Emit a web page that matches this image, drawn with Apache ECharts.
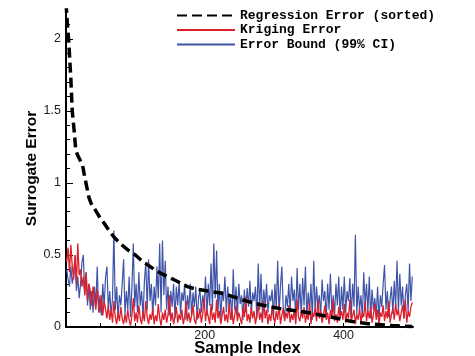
<!DOCTYPE html>
<html>
<head>
<meta charset="utf-8">
<script src="https://cdn.jsdelivr.net/npm/echarts@6/dist/echarts.min.js"></script>
<style>html,body{margin:0;padding:0;background:#fff;}#c{width:475px;height:356px;}</style>
</head>
<body>
<div id="c"></div>
<script>
// Regression error (sorted): sample index / value pairs
var regX = [0, 2, 4, 7, 9, 12, 14, 17, 20, 24, 27, 30, 33, 36, 40, 45, 50, 55, 62, 69, 78, 89, 100, 108, 118, 127, 136, 146, 155, 165, 175, 186, 198, 210, 223, 235, 247, 258, 270, 282, 294, 308, 323, 338, 352, 366, 381, 395, 410, 425, 440, 455, 470, 485, 499];
var regY = [2.25, 2.1, 1.98, 1.72, 1.5, 1.35, 1.23, 1.19, 1.16, 1.12, 1.04, 0.97, 0.9, 0.86, 0.83, 0.79, 0.75, 0.72, 0.67, 0.625, 0.58, 0.535, 0.5, 0.465, 0.43, 0.4, 0.375, 0.35, 0.33, 0.305, 0.28, 0.265, 0.255, 0.245, 0.236, 0.22, 0.2, 0.183, 0.167, 0.153, 0.14, 0.128, 0.118, 0.108, 0.097, 0.083, 0.07, 0.055, 0.04, 0.03, 0.02, 0.015, 0.01, 0.006, 0.003];

// Kriging and error bound: one value every 2 samples (index 1,3,5,...,499)
var sampleStep = 2;
var krigingError = [
0.45,0.55,0.38,0.57,0.42,0.33,0.50,0.30,0.58,0.36,
0.40,0.28,0.35,0.22,0.38,0.18,0.30,0.25,0.15,0.28,
0.20,0.12,0.26,0.16,0.10,0.22,0.08,0.18,0.12,0.06,
0.15,0.05,0.12,0.03,0.18,0.07,0.02,0.10,0.04,0.14,
0.06,0.02,0.09,0.03,0.12,0.05,0.01,0.08,0.20,0.04,
0.10,0.03,0.15,0.06,0.02,0.11,0.04,0.18,0.07,0.02,
0.09,0.05,0.13,0.02,0.08,0.04,0.16,0.06,0.01,0.10,
0.05,0.12,0.03,0.08,0.22,0.04,0.10,0.02,0.07,0.14,
0.03,0.09,0.05,0.12,0.02,0.07,0.18,0.04,0.10,0.03,
0.08,0.15,0.05,0.02,0.11,0.06,0.13,0.03,0.09,0.20,
0.04,0.12,0.07,0.02,0.16,0.05,0.10,0.03,0.19,0.06,
0.11,0.02,0.08,0.14,0.04,0.09,0.03,0.17,0.05,0.12,
0.02,0.08,0.15,0.04,0.10,0.06,0.02,0.13,0.07,0.21,
0.04,0.09,0.03,0.14,0.06,0.11,0.02,0.08,0.16,0.05,
0.10,0.03,0.18,0.06,0.12,0.02,0.09,0.04,0.14,0.07,
0.03,0.11,0.05,0.16,0.02,0.08,0.13,0.04,0.10,0.06,
0.15,0.03,0.09,0.05,0.12,0.02,0.19,0.07,0.04,0.11,
0.06,0.14,0.03,0.09,0.05,0.17,0.02,0.10,0.07,0.13,
0.04,0.19,0.06,0.11,0.03,0.08,0.15,0.05,0.10,0.02,
0.12,0.06,0.19,0.04,0.09,0.03,0.14,0.07,0.11,0.05,
0.16,0.03,0.10,0.06,0.19,0.04,0.08,0.12,0.02,0.09,
0.05,0.13,0.03,0.10,0.07,0.18,0.04,0.11,0.06,0.14,
0.03,0.09,0.16,0.05,0.12,0.02,0.10,0.07,0.15,0.04,
0.11,0.06,0.18,0.03,0.09,0.13,0.05,0.16,0.08,0.12,
0.04,0.10,0.15,0.06,0.19,0.03,0.11,0.07,0.14,0.17
];
var errorBound = [
0.40,0.33,0.28,0.42,0.30,0.36,0.50,0.25,0.35,0.20,
0.30,0.45,0.50,0.22,0.38,0.15,0.30,0.12,0.25,0.10,
0.28,0.15,0.42,0.10,0.22,0.08,0.30,0.14,0.35,0.42,
0.12,0.25,0.08,0.20,0.67,0.12,0.28,0.06,0.22,0.15,
0.30,0.47,0.09,0.25,0.12,0.35,0.07,0.28,0.58,0.14,
0.30,0.10,0.38,0.15,0.25,0.06,0.32,0.45,0.12,0.47,
0.18,0.30,0.08,0.28,0.15,0.42,0.20,0.58,0.10,0.60,
0.22,0.46,0.12,0.28,0.08,0.25,0.14,0.30,0.06,0.28,
0.15,0.32,0.09,0.24,0.18,0.30,0.05,0.22,0.12,0.30,
0.08,0.24,0.14,0.28,0.05,0.20,0.26,0.10,0.22,0.14,
0.35,0.08,0.30,0.15,0.44,0.12,0.58,0.20,0.53,0.10,
0.30,0.06,0.25,0.18,0.35,0.10,0.28,0.14,0.22,0.05,
0.40,0.12,0.28,0.08,0.30,0.16,0.22,0.05,0.26,0.10,
0.27,0.14,0.32,0.09,0.24,0.18,0.28,0.06,0.44,0.12,
0.37,0.08,0.26,0.15,0.30,0.10,0.22,0.18,0.26,0.05,
0.30,0.12,0.46,0.09,0.28,0.42,0.14,0.06,0.22,0.14,
0.30,0.10,0.35,0.18,0.26,0.05,0.41,0.12,0.30,0.08,
0.34,0.15,0.42,0.07,0.24,0.12,0.30,0.05,0.46,0.10,
0.28,0.14,0.22,0.08,0.33,0.18,0.25,0.06,0.30,0.12,
0.37,0.10,0.22,0.08,0.30,0.15,0.35,0.06,0.28,0.12,
0.35,0.10,0.25,0.18,0.34,0.07,0.30,0.14,0.64,0.09,
0.28,0.12,0.22,0.06,0.38,0.15,0.30,0.10,0.35,0.06,
0.26,0.12,0.20,0.08,0.28,0.05,0.22,0.14,0.30,0.43,
0.12,0.25,0.07,0.19,0.28,0.09,0.32,0.14,0.46,0.10,
0.37,0.15,0.28,0.06,0.22,0.30,0.11,0.44,0.18,0.35
];

var xLabelValues = [200, 400];
var xTickValues = [50, 100, 150, 200, 250, 300, 350, 400, 450];
var yLabelValues = [0, 0.5, 1, 1.5, 2];
var yMinorTickValues = [0.1,0.2,0.3,0.4,0.6,0.7,0.8,0.9,1.1,1.2,1.3,1.4,1.6,1.7,1.8,1.9,2.1];
var seriesNames = ['Regression Error (sorted)', 'Kriging Error', 'Error Bound (99% CI)'];

function pairs(xs, ys) { return ys.map(function (v, i) { return [xs[i], v]; }); }
function stepped(ys) { return ys.map(function (v, i) { return [i * sampleStep + 1, v]; }); }

var chart = echarts.init(document.getElementById('c'), null, { renderer: 'canvas' });
var axisFont = 'Liberation Sans, Arial, sans-serif';
chart.setOption({
  animation: false,
  backgroundColor: '#ffffff',
  grid: { left: 66, right: 62, top: 10, bottom: 29, containLabel: false, outerBoundsMode: 'none' },
  legend: {
    orient: 'vertical', left: 176, top: 9, padding: 0,
    itemWidth: 58, itemHeight: 14, itemGap: 1.5,
    data: seriesNames,
    itemStyle: { opacity: 0 },
    textStyle: { fontFamily: 'Liberation Mono, Courier New, monospace', fontWeight: 'bold', fontSize: 13, color: '#000' }
  },
  xAxis: [{
    type: 'value', min: 0, max: 500,
    name: 'Sample Index', nameLocation: 'middle', nameGap: 13, nameMoveOverlap: false,
    nameTextStyle: { fontFamily: axisFont, fontWeight: 'bold', fontSize: 16.5, color: '#000', padding: [0, 0, 0, 16] },
    axisLine: { show: true, onZero: false, lineStyle: { color: '#000', width: 2 } },
    axisTick: { show: true, inside: true, length: 4, lineStyle: { color: '#000' }, customValues: xTickValues },
    axisLabel: { show: true, margin: 2, fontFamily: axisFont, fontSize: 12.5, color: '#222', customValues: xLabelValues },
    splitLine: { show: false }
  }],
  yAxis: [{
    type: 'value', min: 0, max: 2.2,
    name: 'Surrogate Error', nameLocation: 'middle', nameGap: 26, nameMoveOverlap: false,
    nameTextStyle: { fontFamily: axisFont, fontWeight: 'bold', fontSize: 15.5, color: '#000' },
    axisLine: { show: true, onZero: false, lineStyle: { color: '#000', width: 2 } },
    axisTick: { show: true, inside: true, length: 7, lineStyle: { color: '#000' }, customValues: yLabelValues },
    axisLabel: { show: true, margin: 5, fontFamily: axisFont, fontSize: 12.5, color: '#222', customValues: yLabelValues },
    splitLine: { show: false }
  }, {
    type: 'value', min: 0, max: 2.2, position: 'left',
    axisLine: { show: false },
    axisTick: { show: true, inside: true, length: 4, lineStyle: { color: '#000' }, customValues: yMinorTickValues },
    axisLabel: { show: false },
    splitLine: { show: false }
  }],
  series: [{
    name: seriesNames[0], type: 'line', data: pairs(regX, regY), symbol: 'none', z: 5,
    lineStyle: { color: '#000', width: 3.5, type: [10, 5] }, itemStyle: { color: '#000' }
  }, {
    name: seriesNames[1], type: 'line', data: stepped(krigingError), symbol: 'none', z: 4,
    lineStyle: { color: '#dc1f2b', width: 1.3 }, itemStyle: { color: '#dc1f2b' }
  }, {
    name: seriesNames[2], type: 'line', data: stepped(errorBound), symbol: 'none', z: 3,
    lineStyle: { color: '#3f54a8', width: 1.2 }, itemStyle: { color: '#3f54a8' }
  }]
});
</script>
</body>
</html>
